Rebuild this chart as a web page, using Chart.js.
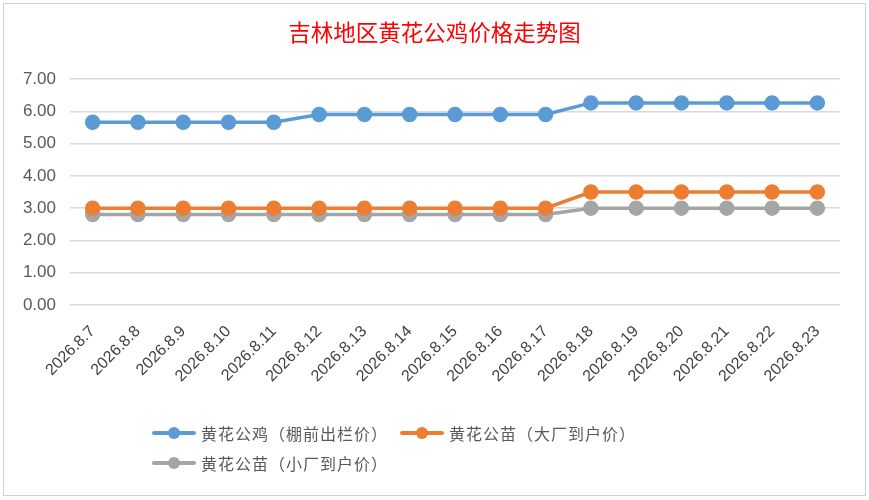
<!DOCTYPE html>
<html>
<head>
<meta charset="utf-8">
<script src="https://cdn.jsdelivr.net/npm/chart.js@4.4.1/dist/chart.umd.min.js"></script>
<style>
  body { margin: 0; background: #fff; }
  #wrap { position: relative; width: 869px; height: 500px; }
  #frame { position: absolute; left: 3px; top: 3px; width: 861px; height: 491px; border: 1px solid #d0d0d0; pointer-events: none; }
  #legend { position: absolute; left: 152px; top: 418px; width: 660px; font-family: "Noto Sans CJK SC", sans-serif; font-size: 16px; letter-spacing: 1px; color: #595959; }
  .item { display: inline-flex; align-items: center; height: 30px; margin-right: 12px; }
  .mark { position: relative; width: 44px; height: 12px; margin-right: 5px; }
  .mark .ln { position: absolute; left: 0; right: 0; top: 4px; height: 4px; border-radius: 2px; }
  .mark .dt { position: absolute; left: 16px; top: 0; width: 12px; height: 12px; border-radius: 6px; }
</style>
</head>
<body>
<div id="wrap">
  <canvas id="myChartLine" width="869" height="500"></canvas>
  <div id="frame"></div>
  <div id="legend"></div>
</div>
<script>
const dias = ['2026.8.7', '2026.8.8', '2026.8.9', '2026.8.10', '2026.8.11', '2026.8.12', '2026.8.13', '2026.8.14', '2026.8.15',
  '2026.8.16', '2026.8.17', '2026.8.18', '2026.8.19', '2026.8.20', '2026.8.21', '2026.8.22', '2026.8.23'];
const gongji = [5.66, 5.66, 5.66, 5.66, 5.66, 5.9, 5.9, 5.9, 5.9, 5.9, 5.9, 6.26, 6.26, 6.26, 6.26, 6.26, 6.26];
const miaoDa = [3.0, 3.0, 3.0, 3.0, 3.0, 3.0, 3.0, 3.0, 3.0, 3.0, 3.0, 3.5, 3.5, 3.5, 3.5, 3.5, 3.5];
const miaoXiao = [2.8, 2.8, 2.8, 2.8, 2.8, 2.8, 2.8, 2.8, 2.8, 2.8, 2.8, 3.0, 3.0, 3.0, 3.0, 3.0, 3.0];
const nomes = ['黄花公鸡（棚前出栏价）', '黄花公苗（大厂到户价）', '黄花公苗（小厂到户价）'];
const cores = ['#5b9bd5', '#ed7d31', '#a5a5a5'];

const series = [gongji, miaoDa, miaoXiao];

// centraliza o titulo na largura toda do canvas
const tituloCentro = {
  id: 'tituloCentro',
  afterLayout(chart) {
    if (chart.titleBlock) {
      chart.titleBlock.left = 0;
      chart.titleBlock.right = chart.width;
    }
  }
};

const ctx = document.getElementById('myChartLine');
const chart = new Chart(ctx, {
  type: 'line',
  data: {
    labels: dias,
    datasets: series.map((d, i) => ({
      label: nomes[i],
      data: d,
      borderColor: cores[i],
      backgroundColor: cores[i],
      borderWidth: 3.5,
      pointRadius: 6,
      pointHoverRadius: 6,
      tension: 0
    }))
  },
  plugins: [tituloCentro],
  options: {
    responsive: false,
    animation: false,
    layout: { padding: { left: 0, right: 29, top: 0, bottom: 0 } },
    plugins: {
      legend: { display: false },
      tooltip: { enabled: false },
      title: {
        display: true,
        text: '吉林地区黄花公鸡价格走势图',
        color: '#ff0000',
        font: { family: '"Noto Sans CJK SC", sans-serif', size: 22.5, weight: 'normal' },
        padding: { top: 19, bottom: 33 }
      }
    },
    scales: {
      x: {
        offset: true,
        grid: { display: false },
        border: { display: false },
        ticks: {
          color: '#404040',
          font: { family: '"Liberation Sans", sans-serif', size: 16 },
          maxRotation: 45,
          minRotation: 45,
          autoSkip: false,
          padding: 9
        },
        afterFit: s => { s.height = 195; }
      },
      y: {
        min: 0,
        max: 7,
        grid: { color: '#d9d9d9', lineWidth: 1.5, drawTicks: false },
        border: { display: false },
        ticks: {
          stepSize: 1,
          color: '#595959',
          padding: 14,
          font: { family: '"Liberation Sans", sans-serif', size: 17 },
          callback: v => v.toFixed(2)
        },
        afterFit: s => { s.width = 70; }
      }
    }
  }
});

// legenda no estilo do Excel
const leg = document.getElementById('legend');
chart.data.datasets.forEach((ds, i) => {
  const it = document.createElement('div');
  it.className = 'item';
  it.innerHTML = '<span class="mark"><span class="ln" style="background:' + ds.borderColor + '"></span>' +
    '<span class="dt" style="background:' + ds.borderColor + '"></span></span>' + ds.label;
  leg.appendChild(it);
  if (i === 1) leg.appendChild(document.createElement('br'));
});
</script>
</body>
</html>
